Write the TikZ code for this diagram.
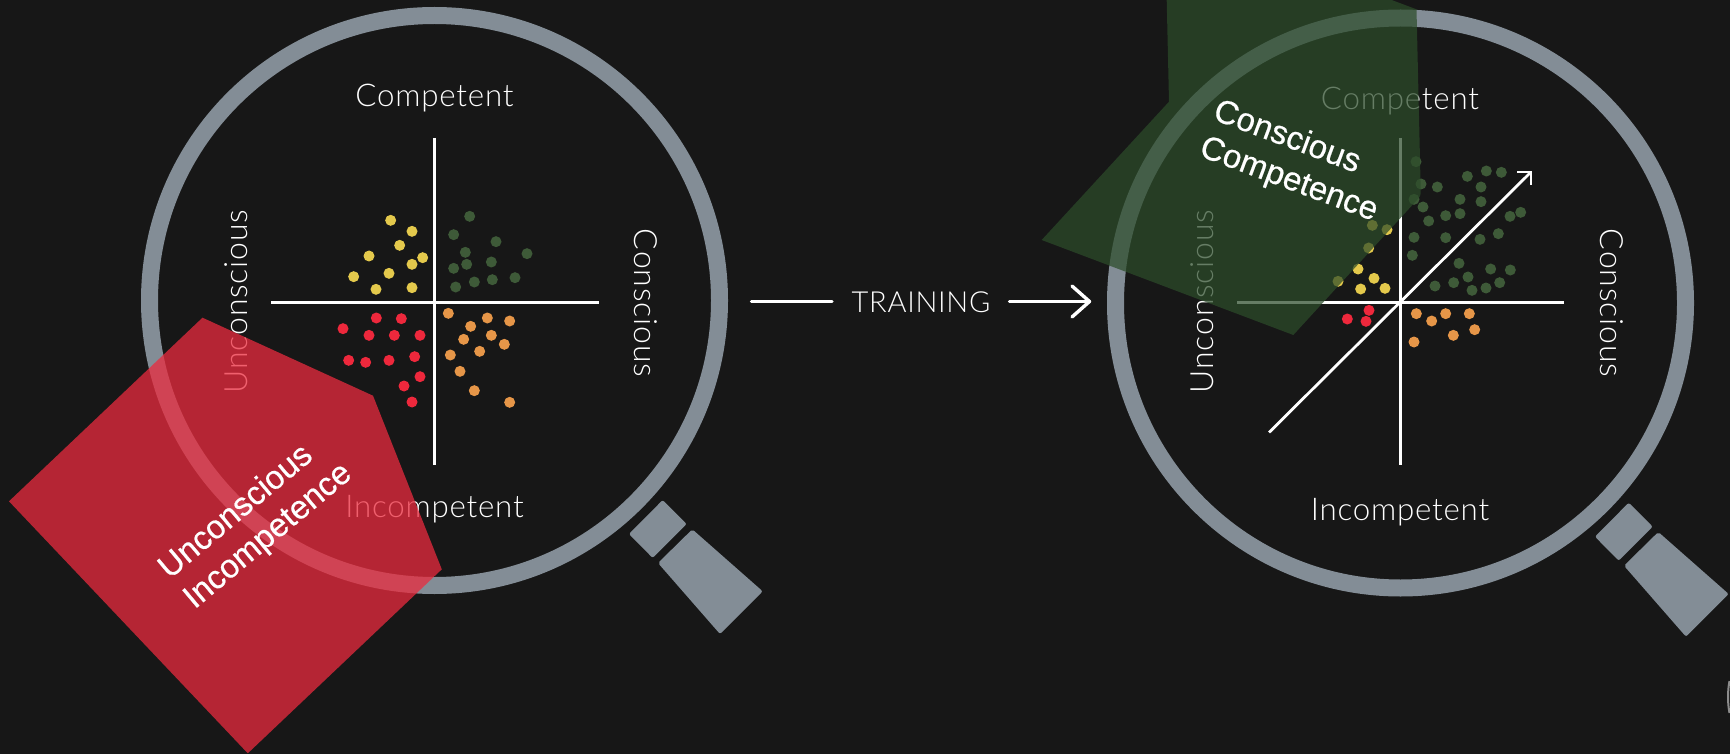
\documentclass[tikz,border=0pt]{standalone}
\usepackage{fontspec}
\setmainfont{Liberation Sans}
\newfontfamily\lightf[LetterSpace=2.5]{Lato Light}
\newfontfamily\medf[FakeBold=0.5]{Liberation Sans}
\definecolor{bgc}{RGB}{23,23,23}
\definecolor{ringc}{RGB}{131,141,150}
\definecolor{yelc}{RGB}{228,201,76}
\definecolor{grnc}{RGB}{62,90,56}
\definecolor{redc}{RGB}{238,40,60}
\definecolor{orac}{RGB}{230,150,72}
\definecolor{polyred}{RGB}{235,43,62}
\definecolor{polygrn}{RGB}{44,76,42}
\tikzset{
  ring/.style={draw=ringc,line width=17pt},
  axis/.style={draw=white,line width=3pt},
  handle/.style={fill=ringc,rounded corners=2pt},
  lbl/.style={text=white,font=\lightf\fontsize{31.3}{31}\selectfont,inner sep=0pt},
  vlbl/.style={text=white,font=\lightf\fontsize{32}{32}\selectfont,inner sep=0pt},
  tag/.style={text=white,font=\medf\fontsize{33}{39}\selectfont,align=left,inner sep=0pt},
}
\newcommand{\dotsat}[4]{\foreach \a/\b in {#4}{\fill[#3] ({#1+\a/3},{#2+\b/3}) circle (5.5pt);}}
\begin{document}
\begin{tikzpicture}[x=1pt,y=-1pt]
\useasboundingbox (0,0) rectangle (1730,754);
\fill[bgc] (0,0) rectangle (1730,754);
% left lens
\node[circle,ring,minimum size=570pt,inner sep=0pt] (lensL) at (434.5,300.5) {};
\coordinate (hL1) at (271,302); \coordinate (hL2) at (598.5,302);
\coordinate (vL1) at (434.5,138); \coordinate (vL2) at (434.5,465);
\draw[axis] (hL1) -- (hL2);
\draw[axis] (vL1) -- (vL2);
\node[lbl] (cL) at (434.5,98) {Competent};
\node[lbl] (iL) at (434.5,509) {Incompetent};
\node[vlbl,rotate=90] (uL) at (236,301.5) {Unconscious};
\node[vlbl,rotate=-90] (sL) at (646,303) {Conscious};
\dotsat{320}{190}{yelc}{212/91,276/124,239/166,147/198,308/203,276/223,207/250,101/260,168/298,276/293}
\dotsat{320}{190}{grnc}{449/79,401/134,528/155,436/187,621/191,440/223,514/216,401/235,517/269,585/263,463/276,407/291}
\dotsat{320}{190}{redc}{169/384,244/386,69/416,147/436,223/436,300/436,86/511,137/517,207/511,284/500,300/560,252/588,276/636}
\dotsat{320}{190}{orac}{385/370,502/384,569/393,452/409,431/448,514/436,553/463,391/495,479/484,420/544,463/602,569/637}
\fill[handle] (662.7,500) -- (686.7,524) -- (652.7,558) -- (629,534) -- cycle;
\fill[handle] (692.3,529.3) -- (762.7,591.3) -- (720,634) -- (658,563) -- cycle;
\fill[polyred,fill opacity=.75] (202.5,317.7) -- (373,395.7) -- (441.8,569.3) -- (247.8,753.3) -- (9,501.3) -- cycle;
\node[tag,rotate=40] (tL) at (256,521.5) {Unconscious\\Incompetence};
% training
\coordinate (t1) at (751.5,301.5); \coordinate (t2) at (832,301.5);
\coordinate (t3) at (1009.5,301.5); \coordinate (t4) at (1089.5,301.5);
\coordinate (a1) at (1072,286); \coordinate (a2) at (1072,317);
\draw[axis,line cap=round,line width=3.4pt] (t1) -- (t2);
\node[lbl,font=\lightf\fontsize{29}{29}\selectfont] (tr) at (921,302) {TRAINING};
\draw[axis,line cap=round,line width=3.4pt] (t3) -- (t4);
\draw[axis,line cap=round,line join=round,line width=3.4pt] (a1) -- (t4) -- (a2);
% right lens
\node[circle,ring,minimum size=570pt,inner sep=0pt] (lensR) at (1400.5,303) {};
\coordinate (hR1) at (1237,302); \coordinate (hR2) at (1564,302);
\coordinate (vR1) at (1400,138); \coordinate (vR2) at (1400,465);
\coordinate (dR1) at (1269,432.5); \coordinate (dR2) at (1531,172);
\coordinate (dR3) at (1517,172); \coordinate (dR4) at (1531,185);
\draw[axis] (hR1) -- (hR2);
\draw[axis] (vR1) -- (vR2);
\draw[axis,line width=2.8pt] (dR1) -- (dR2);
\draw[axis,line width=2.8pt] (dR3) -- (dR2) -- (dR4);
\node[lbl] (cR) at (1400,101) {Competent};
\node[lbl] (iR) at (1400,512) {Incompetent};
\node[vlbl,rotate=90] (uR) at (1202.6,301.5) {Unconscious};
\node[vlbl,rotate=-90] (sR) at (1612,303) {Conscious};
\dotsat{1250}{140}{grnc}{498/65,513/132,562/141,652/109,709/93,754/97,693/141,630/178,693/185,492/178,519/201,587/227,630/221,536/243,780/229,812/217,492/292,587/293,690/298,745/281,487/346,627/370,722/387,781/390,654/411,611/428,555/438,666/451,708/444,749/428}
\dotsat{1250}{140}{yelc}{367/256,411/269,356/324,324/387,264/424,372/415,332/447,405/445}
\dotsat{1250}{140}{redc}{292/537,357/511,348/544}
\dotsat{1250}{140}{orac}{499/521,545/543,587/521,658/521,674/569,610/586,492/606}
\fill[handle] (1628.7,502.7) -- (1652.7,526.7) -- (1618.7,560.7) -- (1595,536.7) -- cycle;
\fill[handle] (1658.3,532) -- (1728.7,594) -- (1686,636.7) -- (1624,565.7) -- cycle;
\fill[polygrn,fill opacity=.72] (1166.7,0) -- (1391.7,0) -- (1416.5,9.3) -- (1420.7,190) .. controls (1421,195) and (1420,197) .. (1417,200) -- (1293.3,335) -- (1041.7,240) -- (1169,101.7) -- cycle;
\node[tag,rotate=-20.5] (tR) at (1295.5,162) {Conscious\\Competence};
% partial circle at the right edge
\draw[black!45,line width=2pt] (1729.5,681) .. controls (1727.5,691) and (1727.5,703) .. (1729.5,713);
\end{tikzpicture}
\end{document}
